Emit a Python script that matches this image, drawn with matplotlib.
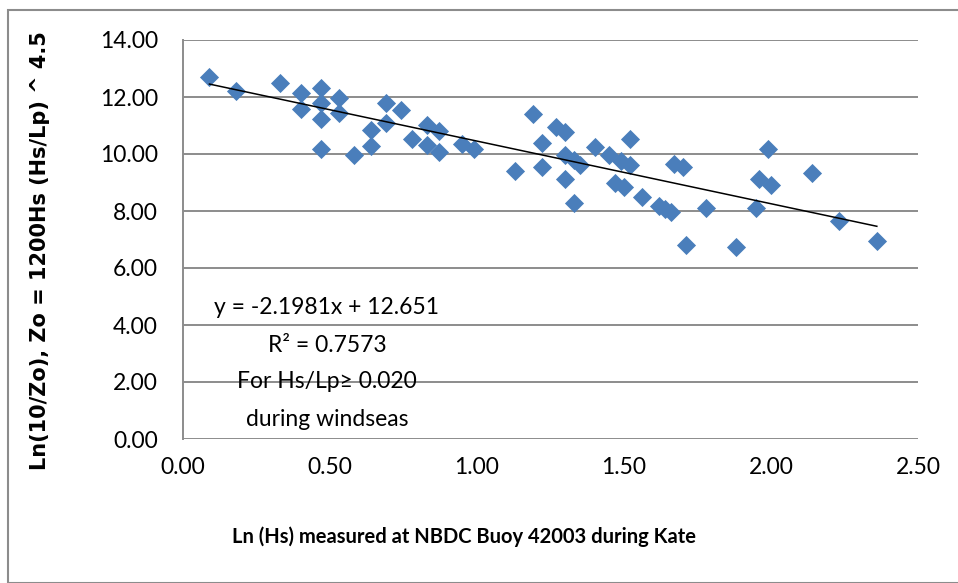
import numpy as np
import matplotlib
matplotlib.use('Agg')
from matplotlib import pyplot as plt
from matplotlib.patches import Rectangle

# Ln(Hs) vs Ln(10/Zo)
ln_hs = [0.09, 0.18, 0.33, 0.40, 0.40, 0.47, 0.47, 0.47, 0.47, 0.53, 0.53,
         0.58, 0.64, 0.64, 0.69, 0.69, 0.74, 0.78, 0.83, 0.83, 0.87, 0.87,
         0.95, 0.99, 1.13, 1.19, 1.22, 1.22, 1.27, 1.30, 1.30, 1.30, 1.33,
         1.33, 1.35, 1.40, 1.45, 1.49, 1.52, 1.52, 1.47, 1.50, 1.56, 1.62,
         1.64, 1.66, 1.67, 1.70, 1.71, 1.78, 1.88, 1.95, 1.96, 2.00, 1.99,
         2.14, 2.23, 2.36]
ln_zo = [12.70, 12.22, 12.50, 12.14, 11.58, 12.32, 11.78, 11.23, 10.16, 11.98, 11.44,
         9.98, 10.85, 10.27, 11.80, 11.08, 11.54, 10.53, 11.03, 10.30, 10.80, 10.07,
         10.35, 10.18, 9.40, 11.40, 10.39, 9.56, 10.93, 10.77, 9.96, 9.12, 9.79,
         8.28, 9.63, 10.23, 9.96, 9.74, 10.51, 9.61, 8.97, 8.84, 8.49, 8.17,
         8.07, 7.95, 9.66, 9.54, 6.82, 8.12, 6.74, 8.12, 9.13, 8.90, 10.19,
         9.35, 7.65, 6.93]

slope = -2.1981
intercept = 12.651
r2 = 0.7573

xticks = [0.0, 0.5, 1.0, 1.5, 2.0, 2.5]
yticks = [0, 2, 4, 6, 8, 10, 12, 14]

plt.rcParams['font.family'] = ['Lato', 'DejaVu Sans']

fig = plt.figure(figsize=(9.58, 5.83), dpi=100)

# chart frame like the spreadsheet chart area
fig.patches.append(Rectangle((8/958, 0), 1.0, 1 - 10/583, transform=fig.transFigure,
                             fill=False, edgecolor='#8c8c8c', lw=1.5, clip_on=False))

ax = fig.add_axes((183/958, 1 - 439/583, 735/958, 399/583))
grid_c = '#8c8c8c'

ax.set_xlim(0, 2.5)
ax.set_ylim(0, 14)
ax.set_xticks(xticks)
ax.set_xticklabels(['%.2f' % v for v in xticks])
ax.set_yticks(yticks)
ax.set_yticklabels(['%.2f' % v for v in yticks])
ax.tick_params(length=0, labelsize=16.5, colors='black')
ax.tick_params(axis='x', pad=13)
ax.tick_params(axis='y', pad=18)
ax.yaxis.grid(True, color=grid_c, lw=1.4)
ax.set_axisbelow(True)
for s in ['top', 'right', 'bottom']:
    ax.spines[s].set_visible(False)
ax.spines['left'].set_color(grid_c)
ax.spines['left'].set_linewidth(1.4)

ax.scatter(ln_hs, ln_zo, marker='D', s=95, color='#4a7ebb', zorder=3, linewidths=0)

xl = np.array([min(ln_hs), max(ln_hs)])
ax.plot(xl, slope*xl + intercept, color='black', lw=1.1, zorder=4)

lines = ['y = %.4fx + %.3f' % (slope, intercept), 'R² = %.4f' % r2,
         'For Hs/Lp≥ 0.020', 'during windseas']
for i, t in enumerate(lines):
    fig.text(327/958, 1 - (308 + 37*i)/583, t, ha='center', va='center', fontsize=16.5)

fig.text(464/958, 1 - 537/583, 'Ln (Hs) measured at NBDC Buoy 42003 during Kate',
         ha='center', va='center', fontsize=14.5, fontweight='bold')
fig.text(40/958, 1 - 251/583, 'Ln(10/Zo), Zo = 1200Hs (Hs/Lp) ^ 4.5',
         ha='center', va='center', rotation=90, fontsize=15, fontweight='bold',
         family='DejaVu Sans')

plt.savefig('out.png')
